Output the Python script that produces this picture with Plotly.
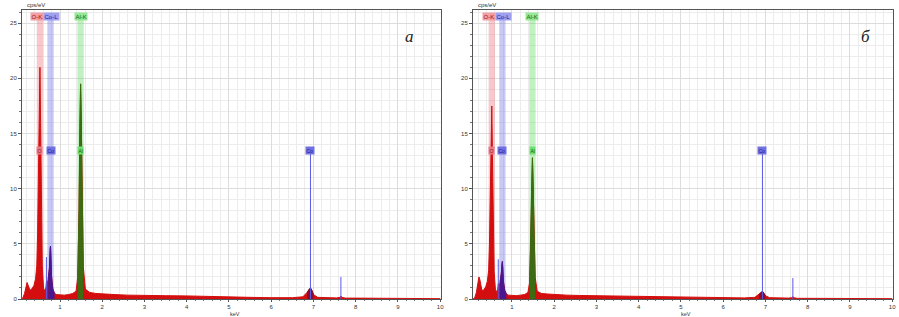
import plotly.graph_objects as go

W, H = 899, 317

# ---------------- data ----------------
energy_a = [0.08, 0.12, 0.16, 0.19, 0.22, 0.24, 0.26, 0.29, 0.33, 0.38, 0.42, 0.45, 0.47, 0.49, 0.51,
            0.525, 0.54, 0.56, 0.58, 0.61, 0.64, 0.665, 0.68, 0.695, 0.72, 0.75, 0.765, 0.775, 0.785,
            0.80, 0.83, 0.87, 0.92, 1.0, 1.1, 1.2, 1.3, 1.38, 1.42, 1.45, 1.47, 1.487, 1.50, 1.52,
            1.55, 1.6, 1.7, 1.85, 2.0, 2.3, 2.6, 3.0, 3.5, 4.0, 4.5, 5.0, 5.5, 6.0, 6.5, 6.75, 6.85,
            6.9, 6.93, 6.96, 7.0, 7.1, 7.3, 7.55, 7.62, 7.65, 7.68, 7.75, 8.0, 8.5, 9.0, 9.5, 10.0]
counts_a = [0.0, 0.1, 0.5, 1.0, 1.5, 1.3, 1.0, 0.8, 0.9, 1.2, 1.8, 3.0, 6.0, 12.0, 18.5,
            21.0, 16.0, 8.0, 3.0, 1.0, 0.7, 1.0, 1.6, 1.4, 1.8, 2.8, 4.6, 4.8, 3.8,
            2.0, 0.9, 0.5, 0.4, 0.35, 0.35, 0.4, 0.5, 0.7, 2.0, 8.0, 16.0, 19.5, 17.0, 10.0,
            3.0, 0.9, 0.6, 0.5, 0.45, 0.4, 0.35, 0.35, 0.3, 0.28, 0.22, 0.18, 0.15, 0.12, 0.12, 0.2, 0.6,
            0.9, 1.0, 0.8, 0.4, 0.15, 0.1, 0.1, 0.15, 0.25, 0.15, 0.08, 0.08, 0.06, 0.05, 0.04, 0.03]

energy_b = energy_a
counts_b = [0.0, 0.1, 0.6, 1.3, 2.0, 1.8, 1.2, 0.8, 0.8, 1.1, 1.6, 2.6, 5.0, 9.5, 15.0,
            17.5, 13.0, 6.5, 2.5, 0.9, 0.6, 0.9, 1.4, 1.2, 1.5, 2.3, 3.2, 3.4, 2.8,
            1.6, 0.8, 0.45, 0.35, 0.3, 0.3, 0.35, 0.4, 0.6, 1.5, 5.5, 10.5, 12.8, 11.0, 6.5,
            2.0, 0.7, 0.5, 0.45, 0.4, 0.35, 0.32, 0.3, 0.27, 0.25, 0.2, 0.16, 0.13, 0.1, 0.1, 0.15, 0.4,
            0.6, 0.7, 0.55, 0.3, 0.12, 0.08, 0.08, 0.12, 0.2, 0.12, 0.06, 0.06, 0.05, 0.04, 0.03, 0.03]

# element lines (keV) and label names
band_energy = [0.525, 0.776, 1.487]
band_top_label = ["O-K", "Co-L", "Al-K"]
band_low_label = ["O", "Co", "Al"]
coK_energy = 6.93
coKb_energy = 7.65
coLl_energy = 0.678
coLl_height_a, coLl_height_b = 3.8, 3.6
coKb_height_a, coKb_height_b = 2.0, 1.9
label_top_level = 25.6
label_low_level = 13.5

x_ticks = [1, 2, 3, 4, 5, 6, 7, 8, 9, 10]
y_ticks = [0, 5, 10, 15, 20, 25]

# ---------------- styling ----------------
RED = "#d40e0e"
PURPLE = "#4a1790"
OLIVE = "#3d6b12"
BLUE_LINE = "#5a5ae6"
band_fill = ["rgba(235,120,130,0.40)", "rgba(120,120,230,0.40)", "rgba(100,220,100,0.40)"]
lbl_bg = ["rgba(240,150,160,0.9)", "rgba(150,150,240,0.9)", "rgba(140,230,140,0.9)"]
lbl_fg = ["#a01010", "#1a1a9a", "#106010"]
low_bg = ["#e87a86", "#7070e0", "#6ee06e"]

def px_x(p):
    return p / W

def px_y(p):
    return 1 - p / H

panels = [
    dict(E=energy_a, C=counts_a, dom=(22, 441), xr=[0.1, 10.02], coLl=coLl_height_a, coKb=coKb_height_a,
         letter="a", lx=409, xa="x", ya="y"),
    dict(E=energy_b, C=counts_b, dom=(473, 893), xr=[0.08, 10.02], coLl=coLl_height_b, coKb=coKb_height_b,
         letter="б", lx=865, xa="x2", ya="y2"),
]

fig = go.Figure()
shapes = []
annotations = []
y_top_px, y_bot_px = 10, 299
YMAX = 26.2

for i, p in enumerate(panels):
    xa, ya = p["xa"], p["ya"]
    E, C = p["E"], p["C"]
    # main spectrum
    fig.add_trace(go.Scatter(x=E, y=C, xaxis=xa, yaxis=ya, mode="lines", fill="tozeroy",
                             line=dict(color=RED, width=1), fillcolor=RED, hoverinfo="skip"))
    # Co-L region
    co = [(e, c) for e, c in zip(E, C) if 0.70 <= e <= 0.87]
    fig.add_trace(go.Scatter(x=[q[0] for q in co], y=[q[1] for q in co], xaxis=xa, yaxis=ya,
                             mode="lines", fill="tozeroy", line=dict(color=PURPLE, width=1),
                             fillcolor=PURPLE, hoverinfo="skip"))
    # Al-K region
    al = [(e, c) for e, c in zip(E, C) if 1.42 <= e <= 1.55]
    fig.add_trace(go.Scatter(x=[q[0] for q in al], y=[q[1] for q in al], xaxis=xa, yaxis=ya,
                             mode="lines", fill="tozeroy", line=dict(color=OLIVE, width=1),
                             fillcolor=OLIVE, hoverinfo="skip"))
    # Co-K region small
    ck = [(e, c) for e, c in zip(E, C) if 6.8 <= e <= 7.05]
    fig.add_trace(go.Scatter(x=[q[0] for q in ck], y=[q[1] for q in ck], xaxis=xa, yaxis=ya,
                             mode="lines", fill="tozeroy", line=dict(color="#7a0a2a", width=1),
                             fillcolor="#8a0a30", hoverinfo="skip"))
    # marker lines
    fig.add_trace(go.Scatter(x=[coK_energy, coK_energy, None, coKb_energy, coKb_energy, None,
                                coLl_energy, coLl_energy],
                             y=[0, label_low_level, None, 0, p["coKb"], None, 0, p["coLl"]],
                             xaxis=xa, yaxis=ya, mode="lines", line=dict(color=BLUE_LINE, width=1),
                             hoverinfo="skip"))
    # translucent bands
    for j, e in enumerate(band_energy):
        shapes.append(dict(type="rect", xref=xa, yref=ya, x0=e - 0.075, x1=e + 0.075,
                           y0=0, y1=label_top_level, fillcolor=band_fill[j], line=dict(width=0),
                           layer="between"))
    # labels
    top_x = [band_energy[0] - 0.06, band_energy[1] + 0.02, band_energy[2]]
    for j, e in enumerate(band_energy):
        annotations.append(dict(x=top_x[j], y=label_top_level, xref=xa, yref=ya, text=band_top_label[j],
                                showarrow=False, font=dict(size=6, color=lbl_fg[j], family="Arial"),
                                bgcolor=lbl_bg[j], borderpad=0.5))
        annotations.append(dict(x=e, y=label_low_level, xref=xa, yref=ya, text=band_low_label[j],
                                showarrow=False, font=dict(size=5, color=lbl_fg[j], family="Arial"),
                                bgcolor=low_bg[j], borderpad=0.5))
    annotations.append(dict(x=coK_energy, y=label_low_level, xref=xa, yref=ya, text="Co",
                            showarrow=False, font=dict(size=5, color="#1a1a9a", family="Arial"),
                            bgcolor="#7070e0", borderpad=0.5))
    # letters
    annotations.append(dict(x=px_x(p["lx"]), y=px_y(37), xref="paper", yref="paper",
                            text="<i>" + p["letter"] + "</i>",
                            showarrow=False, font=dict(size=17, color="#222", family="Liberation Serif"),
                            xanchor="center", yanchor="middle"))
    # axis titles
    annotations.append(dict(x=px_x(p["dom"][0] + 3), y=px_y(5), xref="paper", yref="paper", text="cps/eV",
                            showarrow=False, font=dict(size=6, color="#333", family="Arial"),
                            xanchor="left", yanchor="middle"))
    annotations.append(dict(x=px_x((p["dom"][0] + p["dom"][1]) / 2 + 3), y=px_y(313.5), xref="paper",
                            yref="paper", text="keV", showarrow=False,
                            font=dict(size=5.5, color="#333", family="Arial"),
                            xanchor="center", yanchor="middle"))

axis_common = dict(showgrid=True, gridcolor="#dcdcdc", gridwidth=1, zeroline=False,
                   showline=True, linecolor="#555", linewidth=1, mirror=True, automargin=False,
                   ticks="outside", tickcolor="#555",
                   tickfont=dict(size=6, color="#333", family="Arial"))

layout = dict(width=W, height=H, margin=dict(l=0, r=0, t=0, b=0, autoexpand=False),
              paper_bgcolor="white", plot_bgcolor="white", showlegend=False,
              shapes=shapes, annotations=annotations)

for i, p in enumerate(panels):
    suffix = "" if i == 0 else "2"
    layout["xaxis" + suffix] = dict(axis_common, domain=[px_x(p["dom"][0]), px_x(p["dom"][1])],
                                    range=p["xr"], tickvals=x_ticks, anchor="y" + suffix, ticklen=2,
                                    minor=dict(dtick=0.2, tick0=0, showgrid=True, gridcolor="#ececec",
                                               ticks="outside", ticklen=1, tickcolor="#777"))
    layout["yaxis" + suffix] = dict(axis_common, domain=[px_y(y_bot_px), px_y(y_top_px)],
                                    range=[0, YMAX], tickvals=y_ticks, anchor="x" + suffix, ticklen=3,
                                    minor=dict(dtick=1, showgrid=True, gridcolor="#ececec",
                                               ticks="outside", ticklen=2, tickcolor="#777"))

fig.update_layout(**layout)
fig.write_html("out.html", config={"displayModeBar": False},
               post_script="document.body.style.margin='0';document.body.style.overflow='hidden';")
